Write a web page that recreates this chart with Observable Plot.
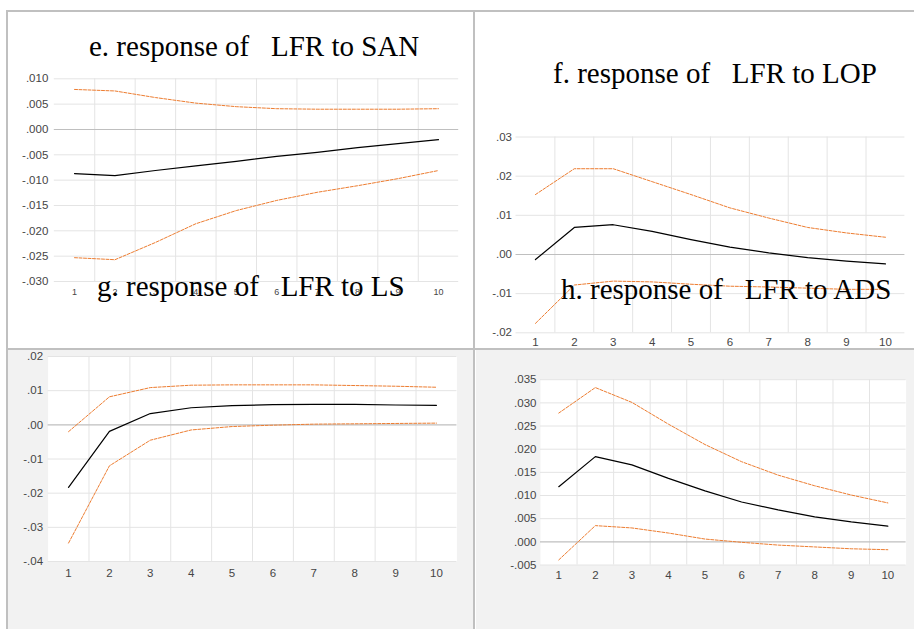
<!DOCTYPE html>
<html>
<head>
<meta charset="utf-8">
<script src="https://cdn.jsdelivr.net/npm/d3@7"></script>
<script src="https://cdn.jsdelivr.net/npm/@observablehq/plot@0.6"></script>
<style>
  body { margin: 0; background: #fff; }
  #root { position: relative; width: 914px; height: 629px; overflow: hidden; background: #fff; }
  .box { position: absolute; }
  .title { position: absolute; font-family: "Liberation Serif", "Times New Roman", serif; font-size: 29px; line-height: 29px; white-space: pre; color: #000; }
  .panel { position: absolute; }
</style>
</head>
<body>
<div id="root"></div>
<script>
// ---------- data ----------
const periods = [1, 2, 3, 4, 5, 6, 7, 8, 9, 10];

// e. response of LFR to SAN
const eResp  = [-0.0087, -0.0091, -0.0081, -0.0072, -0.0063, -0.0053, -0.0045, -0.0036, -0.0028, -0.0020];
const eUpper = [0.0079, 0.0076, 0.0063, 0.0052, 0.0045, 0.0041, 0.0040, 0.0040, 0.0040, 0.0041];
const eLower = [-0.0253, -0.0257, -0.0223, -0.0186, -0.0160, -0.0140, -0.0124, -0.0111, -0.0097, -0.0081];
const eTicks = [0.010, 0.005, 0, -0.005, -0.010, -0.015, -0.020, -0.025, -0.030];

// f. response of LFR to LOP
const fResp  = [-0.0013, 0.0069, 0.0076, 0.0059, 0.0038, 0.0019, 0.0004, -0.0008, -0.0017, -0.0024];
const fUpper = [0.0153, 0.0219, 0.0219, 0.0186, 0.0153, 0.0119, 0.0093, 0.0069, 0.0055, 0.0044];
const fLower = [-0.0176, -0.0078, -0.0068, -0.0070, -0.0076, -0.0081, -0.0083, -0.0086, -0.0089, -0.0089];
const fTicks = [0.03, 0.02, 0.01, 0, -0.01, -0.02];

// g. response of LFR to LS
const gResp  = [-0.0183, -0.0019, 0.0033, 0.0050, 0.0056, 0.0059, 0.0060, 0.0060, 0.0058, 0.0057];
const gUpper = [-0.0020, 0.0082, 0.0109, 0.0116, 0.0117, 0.0117, 0.0117, 0.0115, 0.0113, 0.0110];
const gLower = [-0.0346, -0.0120, -0.0045, -0.0015, -0.0005, -0.0001, 0.0002, 0.0003, 0.0004, 0.0005];
const gTicks = [0.02, 0.01, 0, -0.01, -0.02, -0.03, -0.04];

// h. response of LFR to ADS
const hResp  = [0.0119, 0.0184, 0.0166, 0.0137, 0.0110, 0.0086, 0.0069, 0.0054, 0.0043, 0.0034];
const hUpper = [0.0278, 0.0333, 0.0301, 0.0254, 0.0210, 0.0173, 0.0144, 0.0121, 0.0101, 0.0084];
const hLower = [-0.0039, 0.0035, 0.0030, 0.0019, 0.0006, -0.0001, -0.0007, -0.0011, -0.0015, -0.0017];
const hTicks = [0.035, 0.030, 0.025, 0.020, 0.015, 0.010, 0.005, 0, -0.005];

const titles = {
  e: "e. response of   LFR to SAN",
  f: "f. response of   LFR to LOP",
  g: "g. response of   LFR to LS",
  h: "h. response of   LFR to ADS"
};

// ---------- helpers ----------
const root = document.getElementById("root");
function addBox(left, top, width, height, bg) {
  const d = document.createElement("div");
  d.className = "box";
  Object.assign(d.style, { left: left + "px", top: top + "px", width: width + "px", height: height + "px", background: bg });
  root.appendChild(d);
}
function addTitle(text, left, top) {
  const d = document.createElement("div");
  d.className = "title";
  d.textContent = text;
  d.style.left = left + "px";
  d.style.top = top + "px";
  root.appendChild(d);
}
function decFmt(n) {
  const f = d3.format("." + n + "f");
  return v => f(v).replace("\u2212", "-").replace(/^(-?)0\./, "$1.");
}

function panel(cfg) {
  const data = periods.map((p, i) => ({ p, r: cfg.resp[i], u: cfg.up[i], l: cfg.lo[i] }));
  const bounds = periods.slice(0, -1).map(p => p + 0.5);
  const marks = [];
  if (cfg.white) marks.push(Plot.frame({ fill: "white", stroke: "none" }));
  marks.push(Plot.ruleY(cfg.ticks.filter(t => Math.abs(t) > 1e-12), { stroke: "#e4e4e4", strokeWidth: 1 }));
  marks.push(Plot.ruleX(bounds, { stroke: "#e4e4e4", strokeWidth: 1 }));
  marks.push(Plot.ruleY([0], { stroke: "#bfbfbf", strokeWidth: 1.2 }));
  marks.push(Plot.axisY({ ticks: cfg.ticks, tickSize: 0, tickPadding: cfg.yPad, tickFormat: cfg.fmt, fontSize: 11.5, label: null }));
  marks.push(Plot.axisX({ ticks: periods, tickSize: 0, tickPadding: cfg.xPad, tickFormat: d => String(d), fontSize: cfg.xFont, label: null }));
  marks.push(Plot.line(data, { x: "p", y: "u", stroke: "#ED7D31", strokeWidth: 1, strokeDasharray: "3,1.5" }));
  marks.push(Plot.line(data, { x: "p", y: "l", stroke: "#ED7D31", strokeWidth: 1, strokeDasharray: "3,1.5" }));
  marks.push(Plot.line(data, { x: "p", y: "r", stroke: "#000", strokeWidth: 1.2 }));
  const svg = Plot.plot({
    width: cfg.W, height: cfg.H,
    marginLeft: cfg.ml, marginRight: cfg.mr, marginTop: cfg.mt, marginBottom: cfg.mb,
    x: { domain: [0.5, 10.5], label: null },
    y: { domain: cfg.yDomain, label: null },
    style: { background: "transparent", color: "#454545", fontFamily: "'Liberation Sans', Arial, sans-serif", fontSize: "11px", overflow: "visible" },
    marks
  });
  const wrap = document.createElement("div");
  wrap.className = "panel";
  wrap.style.left = cfg.left + "px";
  wrap.style.top = cfg.top + "px";
  wrap.appendChild(svg);
  root.appendChild(wrap);
}

// ---------- backgrounds ----------
addBox(8, 350, 466, 279, "#f2f2f2");
addBox(476, 350, 438, 279, "#f2f2f2");

// ---------- panels ----------
panel({ left: 0, top: 60, W: 470, H: 250, ml: 53.8, mr: 11.8, mt: 18.3, mb: 29,
        yDomain: [-0.030, 0.010], ticks: eTicks, fmt: decFmt(3), yPad: 6, xPad: 7.5, xFont: 9,
        resp: eResp, up: eUpper, lo: eLower, white: false });
panel({ left: 476, top: 110, W: 438, H: 250, ml: 39.5, mr: 9.6, mt: 26.5, mb: 27.7,
        yDomain: [-0.02, 0.03], ticks: fTicks, fmt: decFmt(2), yPad: 4, xPad: 5.5, xFont: 11.5,
        resp: fResp, up: fUpper, lo: fLower, white: false });
panel({ left: 8, top: 350, W: 466, H: 240, ml: 39.6, mr: 17.6, mt: 6, mb: 29,
        yDomain: [-0.04, 0.02], ticks: gTicks, fmt: decFmt(2), yPad: 5, xPad: 7.4, xFont: 11.5,
        resp: gResp, up: gUpper, lo: gLower, white: true });
panel({ left: 476, top: 360, W: 438, H: 230, ml: 64, mr: 8.4, mt: 19.2, mb: 25.5,
        yDomain: [-0.005, 0.035], ticks: hTicks, fmt: decFmt(3), yPad: 4, xPad: 5.9, xFont: 11.5,
        resp: hResp, up: hUpper, lo: hLower, white: true });

// ---------- frame lines ----------
addBox(6, 10, 908, 2, "#c0c0c0");   // top
addBox(6, 10, 2, 619, "#c0c0c0");   // left
addBox(473, 10, 2, 619, "#c0c0c0"); // vertical divider
addBox(6, 348, 908, 2, "#c0c0c0");  // horizontal divider

// ---------- titles ----------
addTitle(titles.e, 89, 31.7);
addTitle(titles.f, 553, 58.7);
addTitle(titles.g, 97, 272);
addTitle(titles.h, 561, 275);
</script>
</body>
</html>
